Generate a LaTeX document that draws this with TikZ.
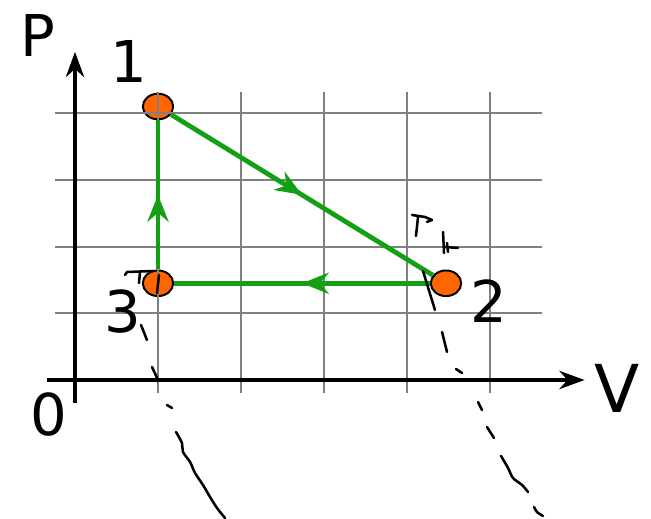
\documentclass[tikz,border=0pt]{standalone}
\usepackage{fontspec}
\setmainfont{DejaVu Sans}
\usetikzlibrary{arrows.meta,shapes.geometric,decorations.markings}
\definecolor{pathgreen}{RGB}{20,160,20}
\definecolor{dotorange}{RGB}{255,102,0}

\begin{document}
\begin{tikzpicture}[x=2.075cm,y=1.6675cm,
	>={Stealth[length=18pt,width=13pt]},
	gridline/.style={draw=gray, line width=1.3pt},
	axis/.style={line width=2.6pt,->},
	lbl/.style={inner sep=0pt, font=\fontsize{41}{48}\selectfont},
	state/.style={ellipse, draw, line width=1.4pt, fill=dotorange,%
		minimum width=0.76cm, minimum height=0.64cm, inner sep=0pt},
	proc/.style={pathgreen, line width=3.4pt, postaction={decorate},%
		decoration={markings, mark=at position 0.5 with {\arrow{Stealth[length=19pt,width=15pt]}}}},
	sketch/.style={line width=1.8pt, line cap=round, line join=round}]

\useasboundingbox (-0.9036,-2.084) rectangle (6.9398,5.697);

% states
\node[state] (p1) at (1,4.1) {};
\node[state] (p2) at (4.47,1.45) {};
\node[state] (p3) at (1,1.45) {};

% grid
\foreach \x in {1,...,5}
	\draw[gridline] (\x,-0.19) -- (\x,4.32);
\foreach \y in {1,...,4}
	\draw[gridline] (-0.24,\y) -- (5.63,\y);

% axes
\coordinate (xs) at (-0.34,0);
\coordinate (xe) at (6.14,0);
\coordinate (ys) at (0,-0.34);
\coordinate (ye) at (0,4.92);
\draw[axis] (xs) -- (xe);
\draw[axis] (ys) -- (ye);

\node[lbl] (P) at (-0.45,5.16) {P};
\node[lbl, font=\fontsize{47}{54}\selectfont] (V) at (6.53,-0.12) {V};
\node[lbl] (zero) at (-0.31,-0.52) {0};

\node[lbl] (l1) at (0.65,4.78) {1};
\node[lbl] (l2) at (4.99,1.18) {2};
\node[lbl] (l3) at (0.58,1.02) {3};

% cycle
\draw[proc] (p1) -- (p2);
\draw[proc] (p2) -- (p3);
\draw[proc] (p3) -- (p1);

% pencil marks at 3
\draw[sketch] (0.602,1.574) -- (0.627,1.619) -- (0.940,1.634);
\draw[sketch] (0.783,1.619) -- (0.771,1.454);
\draw[sketch] (1.012,1.574) -- (0.988,1.304);
\draw[sketch] (0.795,0.825) -- (0.867,0.600);
\draw[sketch] (0.928,0.195) -- (1.0,0.0);
\draw[sketch] (1.108,-0.375) -- (1.169,-0.420);
\draw[sketch] plot[smooth] coordinates {(1.217,-0.780) (1.289,-0.945) (1.301,-1.079)
	(1.386,-1.229) (1.446,-1.394) (1.542,-1.574) (1.627,-1.754) (1.711,-1.919) (1.807,-2.069)};

% pencil marks at 2
\draw[sketch] (4.060,2.474) -- (4.217,2.444) -- (4.301,2.399) -- (4.241,2.369);
\draw[sketch] (4.133,2.444) -- (4.108,2.159);
\draw[sketch] (4.434,2.219) -- (4.446,1.904);
\draw[sketch] (4.482,2.054) -- (4.494,1.919);
\draw[sketch] (4.458,1.994) -- (4.614,1.979);
\draw[sketch] (4.193,1.634) -- (4.337,1.049);
\draw[sketch] (4.422,0.720) -- (4.482,0.420);
\draw[sketch] (4.590,0.165) -- (4.663,0.105);
\draw[sketch] (4.855,-0.330) -- (4.904,-0.450);
\draw[sketch] (4.964,-0.705) -- (5.048,-0.870);
\draw[sketch] plot[smooth] coordinates {(5.133,-1.139) (5.217,-1.319) (5.277,-1.469)
	(5.386,-1.574) (5.458,-1.679)};
\draw[sketch] plot[smooth] coordinates {(5.530,-1.904) (5.566,-1.979) (5.639,-2.039)};
\end{tikzpicture}
\end{document}
